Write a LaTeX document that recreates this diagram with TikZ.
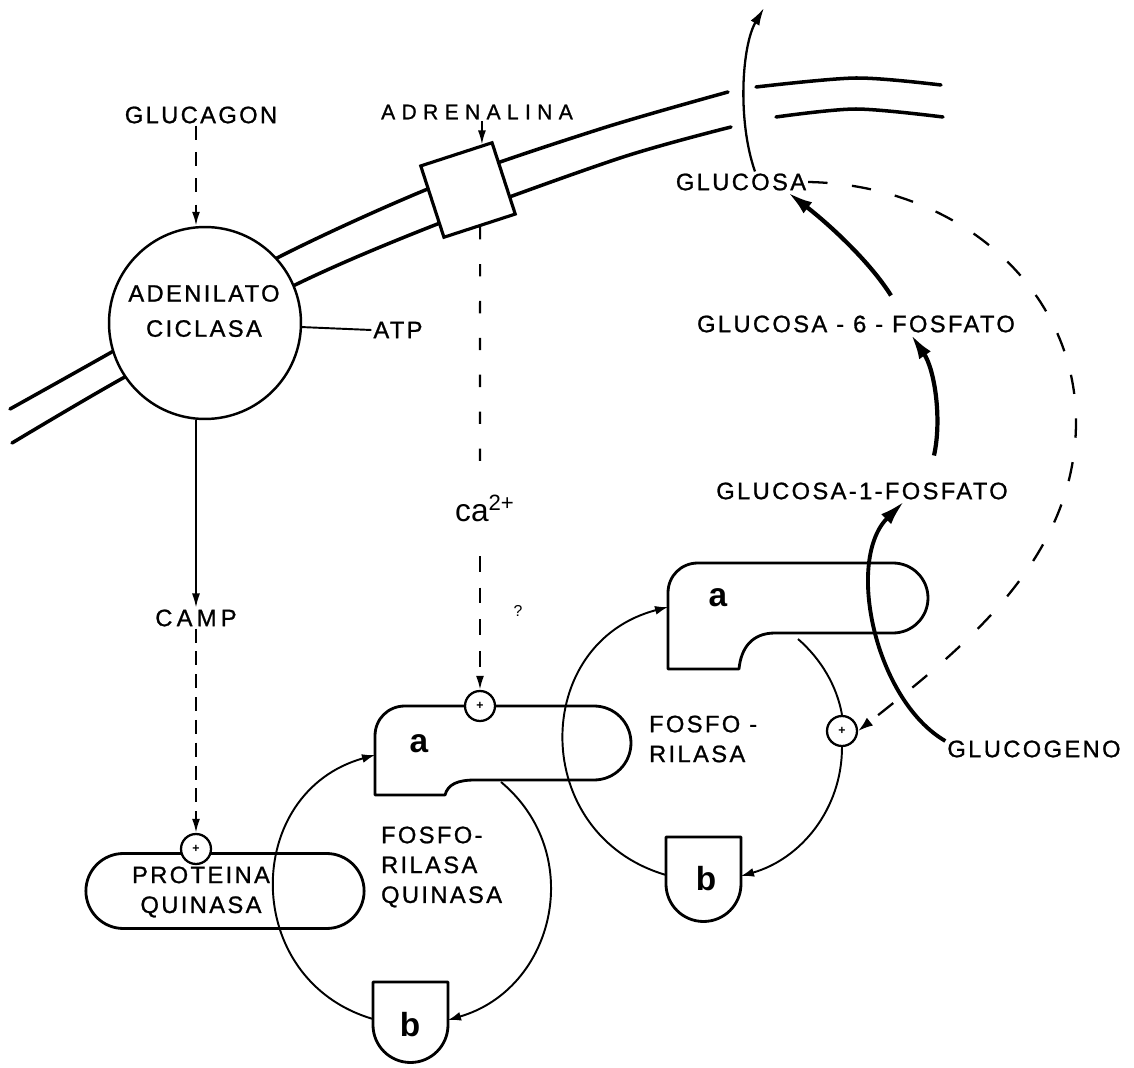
\documentclass[tikz,border=0pt]{standalone}
\usepackage{fontspec}
\setmainfont{Liberation Sans}
\newfontfamily\lblfont[LetterSpace=10, FakeBold=1]{Liberation Sans}
\newfontfamily\widefont[LetterSpace=30, FakeBold=1]{Liberation Sans}
\newfontfamily\campfont[LetterSpace=18, FakeBold=1]{Liberation Sans}
\usetikzlibrary{arrows.meta, shapes.misc, calc}

\begin{document}
\begin{tikzpicture}[x=0.02cm, y=-0.02cm,
		lbl/.style={font=\lblfont\fontsize{13.5}{17}\selectfont, inner sep=1pt, align=center},
		membrane/.style={line width=2pt, line cap=round},
		enzyme/.style={draw, line width=1.6pt, line join=round},
		form/.style={font=\bfseries\fontsize{19}{19}\selectfont, inner sep=0pt},
		plus/.style={circle, draw, fill=white, line width=1.3pt, minimum size=0.6cm,
			inner sep=0pt, font=\bfseries\fontsize{7}{7}\selectfont},
		cyc/.style={line width=1.1pt, -{Latex[length=2.6mm, width=1.8mm]}},
		arrow/.style={line width=0.9pt, -{Latex[length=2.8mm, width=1.6mm]}},
		dasharrow/.style={line width=1.2pt, dash pattern=on 8pt off 7pt, -{Latex[length=2.8mm, width=1.6mm]}},
		flux/.style={line width=2.4pt, -{Latex[length=5mm, width=2.8mm]}}
	]
	\useasboundingbox (0,0) rectangle (1134,1068);

	% membrana
	\draw[membrane] plot[smooth] coordinates {(10,409) (110,353) (277,258) (440,184) (600,129) (728,92)};
	\draw[membrane] plot[smooth] coordinates {(12,443) (123,378) (295,285) (440,223) (620,158) (731,127)};
	\draw[membrane] plot[smooth] coordinates {(756,87) (856,78) (941,85)};
	\draw[membrane] plot[smooth] coordinates {(776,117) (856,109) (943,117)};

	\node[circle, draw, fill=white, line width=1.4pt, minimum size=3.84cm] (ac) at (205,323) {};
	\node[lbl] (actext) at (204,311) {ADENILATO\\[3pt]CICLASA};
	\node[draw, fill=white, line width=1.8pt, minimum size=1.5cm, rotate=18] (recep) at (468,190) {};
	\coordinate (recep-in) at ($(recep.north west)!0.85!(recep.north east)$);

	% textos
	\node[lbl] (glucagon) at (201,115) {GLUCAGON};
	\node[lbl, font=\widefont\fontsize{12}{14}\selectfont] (adren) at (477,112) {ADRENALINA};
	\node[lbl] (atp) at (398,330) {ATP};
	\node[lbl, font=\campfont\fontsize{13.5}{15}\selectfont] (camp) at (196,618) {CAMP};
	\node[font=\fontsize{18}{20}\selectfont, inner sep=1pt] (ca) at (485,508) {ca\textsuperscript{2+}};
	\node[font=\fontsize{9}{10}\selectfont] (qm) at (518,611) {?};
	\node[lbl] (glc) at (741,182) {GLUCOSA};
	\node[lbl] (g6p) at (856,324) {GLUCOSA - 6 - FOSFATO};
	\node[lbl] (g1p) at (862,491) {GLUCOSA-1-FOSFATO};
	\node[lbl] (glg) at (1034,749) {GLUCOGENO};

	% proteina quinasa
	\node[rounded rectangle, draw, line width=1.6pt, minimum width=5.8cm, minimum height=1.5cm] (pk) at (225,891) {};
	\node[lbl] (pktext) at (201,892) {PROTEINA\\QUINASA};

	% fosforilasa quinasa
	\draw[enzyme] (375,795) -- (445,795) .. controls (448,784) and (458,780) .. (475,780) -- (594,780)
		arc[start angle=90, end angle=-90, radius=37] -- (405,706) .. controls (388,706) and (375,719) .. (375,736) -- cycle;
	\draw[enzyme] (373,982) -- (448,982) -- (448,1025) arc[start angle=0, end angle=180, radius=37.5] -- cycle;
	\node[form] (ka) at (419,744) {a};
	\node[form] (kb) at (410,1025) {b};
	\node[lbl, anchor=west, align=left] (kname) at (379,867) {FOSFO-\\RILASA\\QUINASA};

	% fosforilasa
	\draw[enzyme] (668,669) -- (739,669) .. controls (741,648) and (752,633) .. (775,633) -- (893,633)
		arc[start angle=90, end angle=-90, radius=35] -- (698,563) .. controls (681,563) and (668,576) .. (668,593) -- cycle;
	\draw[enzyme] (666,837) -- (741,837) -- (741,884) arc[start angle=0, end angle=180, radius=37.5] -- cycle;
	\node[form] (pa) at (718,598) {a};
	\node[form] (pb) at (706,879) {b};
	\node[lbl, anchor=west, align=left] (pname) at (647,739) {FOSFO -\\RILASA};

	\coordinate (ka-in) at (375,755);
	\coordinate (ka-out) at (501,782);
	\coordinate (kb-in) at (448,1020);
	\coordinate (kb-out) at (373,1019);
	\coordinate (pa-in) at (668,607);
	\coordinate (pa-out) at (798,639);
	\coordinate (pb-in) at (741,876);
	\coordinate (pb-out) at (666,875);
	\coordinate (ca-top) at (480,470);
	\coordinate (ca-bot) at (480,556);
	\coordinate (exit) at (764,8);

	\node[plus] (plpk) at (196,849) {+};
	\node[plus] (plk) at (480,706) {+};
	\node[plus] (plf) at (842,731) {+};

	% senales
	\draw[dasharrow] (glucagon.south -| camp) -- (ac.north -| camp);
	\draw[arrow] (ac.south -| camp) -- (camp.north);
	\draw[dasharrow, dash pattern=on 8pt off 5pt] (camp.south) -- (plpk.north);
	\draw[line width=1.1pt] (atp.west) -- (ac);
	\draw[arrow] (adren.south -| recep-in) -- (recep-in);
	\draw[line width=1.2pt, dash pattern=on 7pt off 14pt] (recep.south) -- (ca-top);
	\draw[dasharrow, dash pattern=on 9pt off 9pt] (ca-bot) -- (plk.north);

	% ciclos
	\draw[cyc] (kb-out) .. controls (240,980) and (242,792) .. (ka-in);
	\draw[cyc] (ka-out) .. controls (587,854) and (555,989) .. (kb-in);
	\draw[cyc] (pb-out) .. controls (529,835) and (530,643) .. (pa-in);
	\draw[line width=1.1pt] (pa-out) .. controls (821,659) and (837,686) .. (plf.north);
	\draw[cyc] (plf.south) .. controls (842,809) and (801,859) .. (pb-in);

	% glucogenolisis
	\draw[flux, line width=2.2pt] ([yshift=0.16cm]glg.west) .. controls (875,700) and (845,560) .. ([xshift=0.84cm]g1p.south);
	\draw[flux] ([xshift=1.44cm, yshift=0.5cm]g1p.north) .. controls (942,420) and (935,370) .. ([xshift=1.1cm]g6p.south);
	\draw[flux] ([xshift=0.7cm, yshift=0.36cm]g6p.north) .. controls (870,262) and (830,225) .. ([xshift=0.94cm]glc.south);
	\draw[line width=1.3pt, -{Latex[length=3.5mm, width=2mm]}] ([xshift=0.28cm]glc.north) .. controls (737,120) and (742,45) .. (exit);
	\draw[line width=1.3pt, dash pattern=on 11pt off 14pt, -{Latex[length=3mm, width=2mm]}]
		(glc.east) .. controls (960,185) and (1075,290) .. (1076,420) .. controls (1077,560) and (960,650) .. (plf.east);
\end{tikzpicture}
\end{document}
